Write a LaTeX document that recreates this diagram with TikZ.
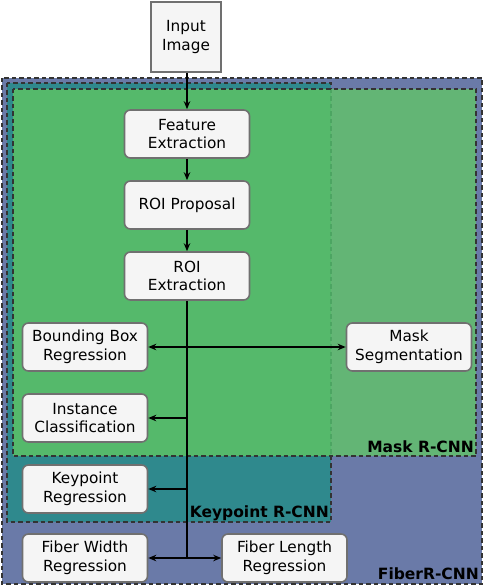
\documentclass[tikz,border=0pt]{standalone}
\usepackage{fontspec}
\setmainfont{DejaVu Sans}
\usetikzlibrary{arrows.meta}
\definecolor{fiberblue}{HTML}{6A7AA8}
\definecolor{kpteal}{HTML}{2F898D}
\definecolor{maskgreenL}{HTML}{55B96B}
\definecolor{maskgreenR}{HTML}{63B575}
\definecolor{seamgreen}{HTML}{4CA562}
\definecolor{boxfill}{HTML}{F5F5F5}
\definecolor{boxline}{HTML}{707070}
\definecolor{dashline}{HTML}{333333}
\tikzset{
  stepbox/.style={draw=boxline, line width=1.6pt, fill=boxfill, rounded corners=6pt,
    minimum width=125pt, minimum height=48pt, inner sep=0pt, align=center,
    font=\fontsize{15.3}{18.5}\selectfont},
  inbox/.style={draw=boxline, line width=1.6pt, fill=boxfill,
    minimum width=70pt, minimum height=70pt, inner sep=0pt, align=center,
    font=\fontsize{15.3}{18.5}\selectfont},
  region/.style={draw=dashline, line width=1.8pt, dash pattern=on 4.5pt off 3pt},
  conn/.style={line width=1.5pt, black},
  arr/.style={conn, -{Stealth[length=8pt,width=6.5pt]}},
  darr/.style={conn, {Stealth[length=8pt,width=6.5pt]}-{Stealth[length=8pt,width=6.5pt]}},
  grouplabel/.style={font=\fontsize{15.5}{18}\selectfont\bfseries, anchor=base east, inner sep=0pt}
}
\begin{document}
\begin{tikzpicture}[x=1pt,y=-1pt]
\useasboundingbox (0,0) rectangle (484,588);
% regions
\fill[fiberblue] (2,78) rectangle (482,584);
\draw[region] (2,78) rectangle (482,584);
\fill[kpteal] (7,83) rectangle (331,522);
\draw[region] (7,83) rectangle (331,522);
\fill[maskgreenL] (13,89) rectangle (331,456);
\fill[maskgreenR] (331,89) rectangle (476,456);
\draw[seamgreen, line width=1.2pt, dash pattern=on 4.5pt off 3pt] (331,89) -- (331,456);
\draw[region] (13,89) rectangle (476,456);
\node[grouplabel] (lmask) at (474,452) {Mask R-CNN};
\node[grouplabel] (lkp) at (329,517) {Keypoint R-CNN};
\node[grouplabel] (lfib) at (479,579) {FiberR-CNN};
% nodes
\node[inbox] (input) at (186,37) {Input\\Image};
\node[stepbox] (feat) at (187,134) {Feature\\Extraction};
\node[stepbox] (prop) at (187,205) {ROI Proposal};
\node[stepbox] (ext) at (187,276) {ROI\\Extraction};
\node[stepbox] (bb) at (85,347) {Bounding Box\\Regression};
\node[stepbox] (mask) at (409,347) {Mask\\Segmentation};
\node[stepbox] (inst) at (85,418) {Instance\\Classification};
\node[stepbox] (kp) at (85,489) {Keypoint\\Regression};
\node[stepbox] (fw) at (85,558) {Fiber Width\\Regression};
\node[stepbox] (fl) at (284.5,558) {Fiber Length\\Regression};
% connectors
\coordinate (tInst) at (187,418);
\coordinate (tKp) at (187,489);
\coordinate (tEnd) at (187,558);
\draw[arr] (input.south -| feat.north) -- (feat.north);
\draw[arr] (feat) -- (prop);
\draw[arr] (prop) -- (ext);
\draw[conn] (ext.south) -- (tEnd);
\draw[darr] (bb) -- (mask);
\draw[arr] (tInst) -- (inst.east);
\draw[arr] (tKp) -- (kp.east);
\draw[darr] (fw) -- (fl);
\end{tikzpicture}
\end{document}
